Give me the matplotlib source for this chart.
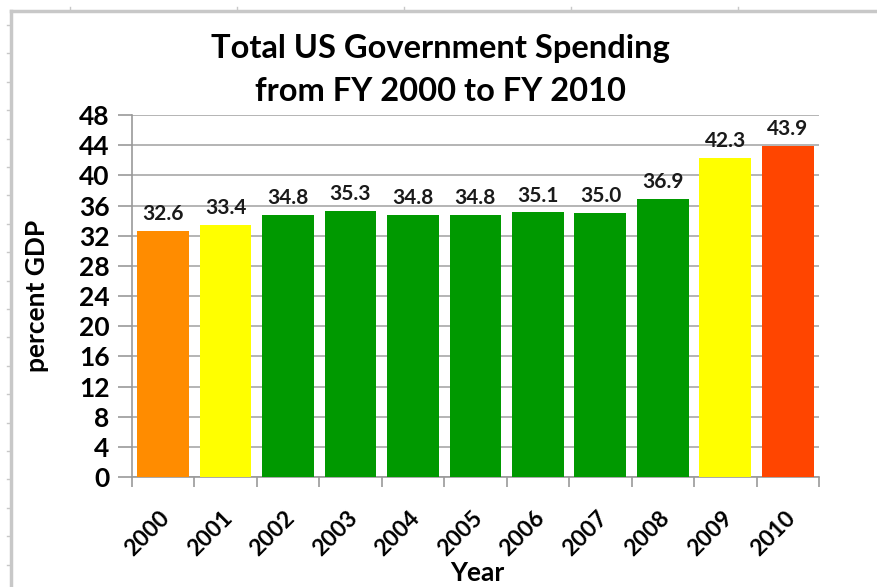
import matplotlib
matplotlib.use("Agg")
import matplotlib.pyplot as plt
from matplotlib.lines import Line2D

years = ['2000', '2001', '2002', '2003', '2004', '2005', '2006', '2007', '2008', '2009', '2010']
spending = [32.6, 33.4, 34.8, 35.3, 34.8, 34.8, 35.1, 35.0, 36.9, 42.3, 43.9]
colors = ['#FF8C00', '#FFFF00', '#009900', '#009900', '#009900', '#009900',
          '#009900', '#009900', '#009900', '#FFFF00', '#FF4500']
yticks = list(range(0, 49, 4))

plt.rcParams['font.family'] = ['Lato', 'DejaVu Sans']
plt.rcParams['font.weight'] = 'bold'

fig = plt.figure(figsize=(8.78, 5.87), dpi=100)
ax = fig.add_axes([0.150, 0.1874, 0.783, 0.6166])

x = range(len(years))
bars = ax.bar(x, spending, width=0.83, color=colors, zorder=3)
for xi, v in zip(x, spending):
    ax.text(xi, v + 0.9, f'{v:.1f}', ha='center', va='bottom', fontsize=15, fontweight='bold', color='#1a1a1a')

ax.set_xlim(-0.5, len(years) - 0.5)
ax.set_ylim(0, 48)
ax.set_yticks(yticks)
ax.set_yticklabels([str(t) for t in yticks], fontsize=19, fontweight='bold')
ax.set_xticks([i - 0.5 for i in range(len(years) + 1)])
ax.set_xticklabels([])
ax.set_xticks([i - 0.06 for i in x], minor=True)
ax.set_xticklabels(years, minor=True, rotation=45, ha='right', rotation_mode='anchor',
                   fontsize=16.5, fontweight='bold')
ax.tick_params(axis='x', which='minor', length=0, pad=22)
ax.tick_params(axis='x', which='major', length=7, color='#999999', width=1.2)
ax.tick_params(axis='y', length=10, color='#999999', width=1.2, pad=6)

ax.grid(axis='y', color='#A8A8A8', linewidth=1.2, zorder=0)
for s in ['top', 'right']:
    ax.spines[s].set_visible(False)
for s in ['left', 'bottom']:
    ax.spines[s].set_color('#999999')
    ax.spines[s].set_linewidth(1.2)

fig.text(37 / 878, 1 - 296 / 587, 'percent GDP', rotation=90, ha='center', va='center',
         fontsize=19, fontweight='bold')
fig.text(477 / 878, 1 - 573 / 587, 'Year', ha='center', va='center', fontsize=19, fontweight='bold')
fig.text(0.502, 1 - 70 / 587, 'Total US Government Spending\nfrom FY 2000 to FY 2010', ha='center', va='center',
         fontsize=23.5, fontweight='bold', linespacing=1.55)

# sheet frame around the chart
W, H = 878, 587
fc = '#C8C8C8'
fig.add_artist(Line2D([11 / W, 1], [1 - 11 / H, 1 - 11 / H], color=fc, lw=2.5))
fig.add_artist(Line2D([11 / W, 11 / W], [0, 1 - 11 / H], color=fc, lw=2.5))
for px in [70, 237, 404, 571, 738]:
    fig.add_artist(Line2D([px / W, px / W], [1 - 11 / H, 1 - 7 / H], color=fc, lw=1))
py = 25
while py < H:
    fig.add_artist(Line2D([7 / W, 11 / W], [1 - py / H, 1 - py / H], color=fc, lw=1))
    py += 28.4

fig.savefig('out.png', dpi=100)
